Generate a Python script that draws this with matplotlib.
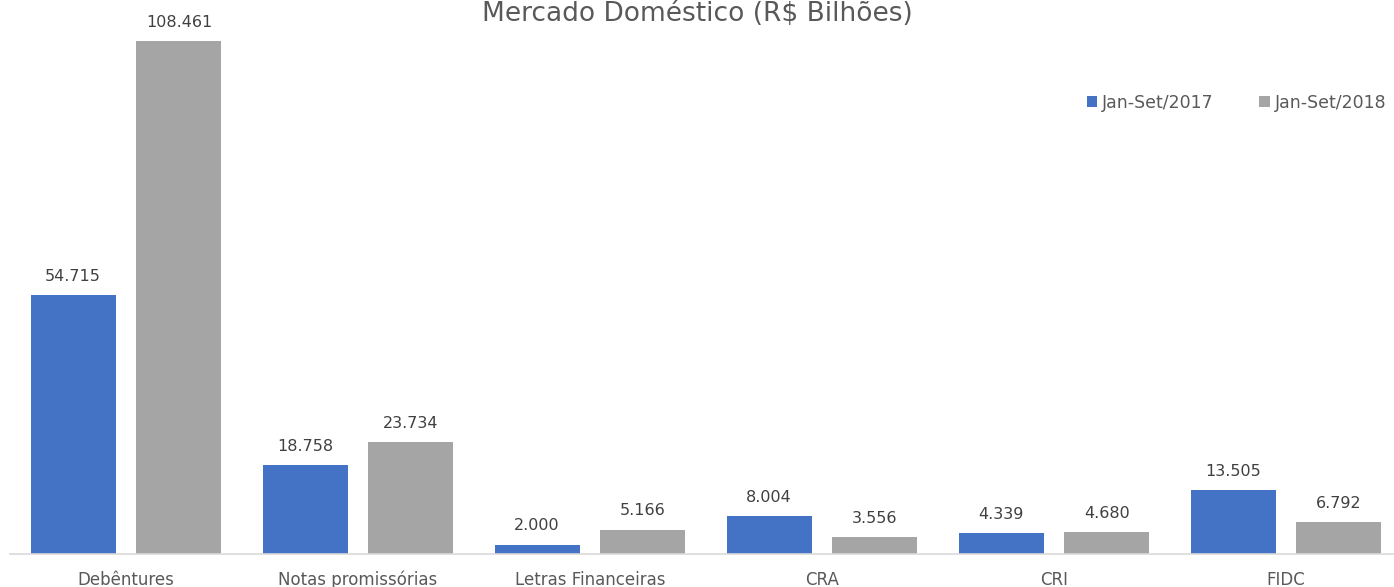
import numpy as np
import matplotlib
matplotlib.use("Agg")
import matplotlib.pyplot as plt

plt.rcParams["font.family"] = ["DejaVu Sans"]

categorias = ["Debêntures", "Notas promissórias", "Letras Financeiras", "CRA", "CRI", "FIDC"]
serie_2017 = [54.715, 18.758, 2.000, 8.004, 4.339, 13.505]
serie_2018 = [108.461, 23.734, 5.166, 3.556, 4.680, 6.792]
nomes = ["Jan-Set/2017", "Jan-Set/2018"]

azul = "#4472C4"
cinza = "#A5A5A5"
texto = "#595959"

fig = plt.figure(figsize=(13.94, 5.87), dpi=100)
ax = fig.add_axes([10 / 1394, 33 / 587, 1392 / 1394, 520 / 587])

x = np.arange(len(categorias))
larg = 0.366
off = 0.228
b1 = ax.bar(x - off, serie_2017, larg, color=azul, label=nomes[0])
b2 = ax.bar(x + off, serie_2018, larg, color=cinza, label=nomes[1])

for barras in (b1, b2):
    for b in barras:
        v = b.get_height()
        ax.annotate(f"{v:.3f}", (b.get_x() + b.get_width() / 2, v),
                    xytext=(0, 8), textcoords="offset points",
                    ha="center", va="bottom", fontsize=11.5, color="#404040")

ax.set_xlim(-0.5, len(categorias) - 0.5)
ax.set_ylim(0, 110)
ax.set_xticks(x)
ax.set_xticklabels(categorias, fontsize=12, color=texto)
ax.tick_params(axis="x", length=0, pad=12)
ax.set_yticks([])
for s in ["top", "right", "left"]:
    ax.spines[s].set_visible(False)
ax.spines["bottom"].set_color("#D9D9D9")
ax.spines["bottom"].set_linewidth(1.2)

# titulo: no original fica cortado no topo, aqui um pouco mais baixo para caber
fig.text(0.5, 0.999, "Mercado Doméstico (R$ Bilhões)", ha="center", va="top",
         fontsize=19, color=texto)

leg = ax.legend(loc="upper right", bbox_to_anchor=(1.0, (554 - 78) / 520),
                ncol=2, frameon=False, fontsize=12.5, handlelength=0.6, handleheight=0.6,
                handletextpad=0.3, columnspacing=2.6, labelcolor=texto)

plt.savefig("out.png", dpi=100)
